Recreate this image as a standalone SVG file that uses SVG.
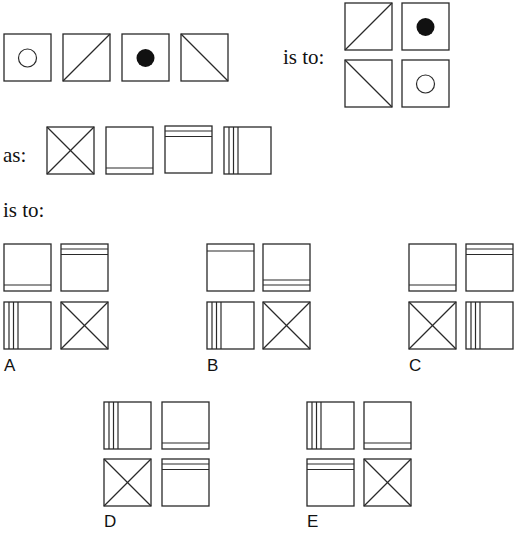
<svg xmlns="http://www.w3.org/2000/svg" xmlns:xlink="http://www.w3.org/1999/xlink" width="517" height="533" viewBox="0 0 517 533">
<style>
.b{fill:#fff;stroke:#2a2a2a;stroke-width:1.3}
.l{stroke:#2a2a2a;stroke-width:1.2;fill:none}
.s{font-family:"Liberation Serif","Times New Roman",serif;font-size:21px;fill:#111}
.lab{font-family:"Liberation Sans",Arial,sans-serif;font-size:17px;fill:#111}
</style>
<defs>
<g id="circ"><rect class="b" x="0" y="0" width="47" height="47"/><circle cx="23.5" cy="24" r="9" class="l"/></g>
<g id="dot"><rect class="b" x="0" y="0" width="47" height="47"/><circle cx="23.5" cy="24" r="9" fill="#111"/></g>
<g id="dup"><rect class="b" x="0" y="0" width="47" height="47"/><line class="l" x1="0" y1="47" x2="47" y2="0"/></g>
<g id="ddn"><rect class="b" x="0" y="0" width="47" height="47"/><line class="l" x1="0" y1="0" x2="47" y2="47"/></g>
<g id="cross"><rect class="b" x="0" y="0" width="47" height="47"/><line class="l" x1="0" y1="0" x2="47" y2="47"/><line class="l" x1="0" y1="47" x2="47" y2="0"/></g>
<g id="bot1"><rect class="b" x="0" y="0" width="47" height="47"/><line class="l" x1="0" y1="41" x2="47" y2="41"/></g>
<g id="top2"><rect class="b" x="0" y="0" width="47" height="47"/><line class="l" x1="0" y1="5" x2="47" y2="5"/><line class="l" x1="0" y1="10.5" x2="47" y2="10.5"/></g>
<g id="left3"><rect class="b" x="0" y="0" width="47" height="47"/><line class="l" x1="5" y1="0" x2="5" y2="47"/><line class="l" x1="9.5" y1="0" x2="9.5" y2="47"/><line class="l" x1="14" y1="0" x2="14" y2="47"/></g>
<g id="top1"><rect class="b" x="0" y="0" width="47" height="47"/><line class="l" x1="0" y1="7" x2="47" y2="7"/></g>
<g id="bot2"><rect class="b" x="0" y="0" width="47" height="47"/><line class="l" x1="0" y1="36" x2="47" y2="36"/><line class="l" x1="0" y1="41" x2="47" y2="41"/></g>
</defs>
<rect width="517" height="533" fill="#fff"/>
<g id="row1">
<use xlink:href="#circ" x="4" y="34"/>
<use xlink:href="#dup" x="63" y="34"/>
<use xlink:href="#dot" x="122" y="34"/>
<use xlink:href="#ddn" x="181" y="34"/>
</g>
<text class="s" x="283" y="64">is to:</text>
<g id="result1">
<use xlink:href="#dup" x="345" y="3"/>
<use xlink:href="#dot" x="402" y="3"/>
<use xlink:href="#ddn" x="345" y="60"/>
<use xlink:href="#circ" x="402" y="60"/>
</g>
<text class="s" x="3" y="162">as:</text>
<g id="row2">
<use xlink:href="#cross" x="47" y="127"/>
<use xlink:href="#bot1" x="106" y="127"/>
<use xlink:href="#top2" x="165" y="126"/>
<use xlink:href="#left3" x="224" y="127"/>
</g>
<text class="s" x="3" y="217">is to:</text>
<g id="optA">
<use xlink:href="#bot1" x="4" y="244"/>
<use xlink:href="#top2" x="61" y="244"/>
<use xlink:href="#left3" x="4" y="302"/>
<use xlink:href="#cross" x="61" y="302"/>
<text class="lab" x="4" y="371">A</text>
</g>
<g id="optB">
<use xlink:href="#top1" x="207" y="244"/>
<use xlink:href="#bot2" x="263" y="244"/>
<use xlink:href="#left3" x="207" y="302"/>
<use xlink:href="#cross" x="263" y="302"/>
<text class="lab" x="207" y="371">B</text>
</g>
<g id="optC">
<use xlink:href="#bot1" x="409" y="244"/>
<use xlink:href="#top2" x="466" y="244"/>
<use xlink:href="#cross" x="409" y="302"/>
<use xlink:href="#left3" x="466" y="302"/>
<text class="lab" x="409" y="371">C</text>
</g>
<g id="optD">
<use xlink:href="#left3" x="104" y="402"/>
<use xlink:href="#bot1" x="162" y="402"/>
<use xlink:href="#cross" x="104" y="459"/>
<use xlink:href="#top2" x="162" y="459"/>
<text class="lab" x="104" y="527">D</text>
</g>
<g id="optE">
<use xlink:href="#left3" x="307" y="402"/>
<use xlink:href="#bot1" x="364" y="402"/>
<use xlink:href="#top2" x="307" y="459"/>
<use xlink:href="#cross" x="364" y="459"/>
<text class="lab" x="307" y="527">E</text>
</g>
</svg>
